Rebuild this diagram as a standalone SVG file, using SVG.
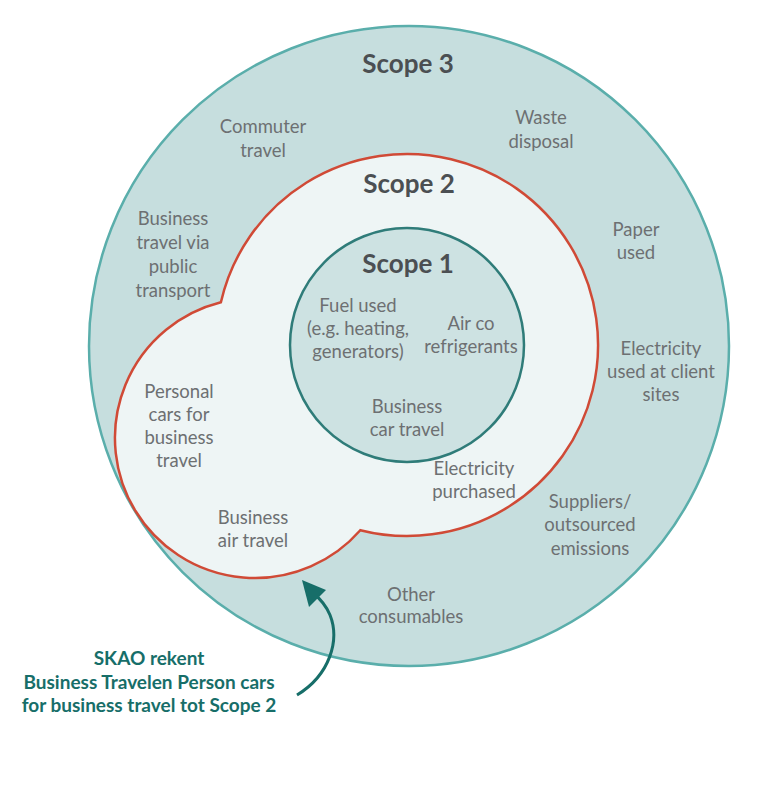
<svg xmlns="http://www.w3.org/2000/svg" width="758" height="786" viewBox="0 0 758 786">
<defs>
<style>
.lbl{font-family:Lato,"Open Sans","Liberation Sans",sans-serif;font-size:18.5px;fill:#6d7072;text-anchor:middle}
.hd{font-family:Lato,"Open Sans","Liberation Sans",sans-serif;font-size:26px;font-weight:bold;fill:#4b4f52;text-anchor:middle}
.ann{font-family:Lato,"Open Sans","Liberation Sans",sans-serif;font-size:19px;font-weight:bold;fill:#176e69;text-anchor:middle}
</style>
</defs>
<rect width="758" height="786" fill="#ffffff"/>
<g id="scope3">
<circle cx="409" cy="346" r="320" fill="#c6dede" stroke="#5aaeab" stroke-width="2.5"/>
<text class="hd" x="408" y="73">Scope 3</text>
<text class="lbl" x="263" y="133">Commuter</text>
<text class="lbl" x="263" y="157">travel</text>
<text class="lbl" x="541" y="124">Waste</text>
<text class="lbl" x="541" y="148">disposal</text>
<text class="lbl" x="173" y="225">Business</text>
<text class="lbl" x="173" y="249">travel via</text>
<text class="lbl" x="173" y="273">public</text>
<text class="lbl" x="173" y="297">transport</text>
<text class="lbl" x="636" y="236">Paper</text>
<text class="lbl" x="636" y="259">used</text>
<text class="lbl" x="661" y="355">Electricity</text>
<text class="lbl" x="661" y="378">used at client</text>
<text class="lbl" x="661" y="401">sites</text>
<text class="lbl" x="590" y="508">Suppliers/</text>
<text class="lbl" x="590" y="531">outsourced</text>
<text class="lbl" x="590" y="555">emissions</text>
<text class="lbl" x="411" y="601">Other</text>
<text class="lbl" x="411" y="623">consumables</text>
</g>
<g id="scope2">
<path d="M220.9,302.2 A191,191 0 1 1 360.3,530.2 A140,140 0 1 1 220.9,302.2 Z" fill="#eef5f5" stroke="#d04a36" stroke-width="2.5" stroke-linejoin="miter"/>
<text class="hd" x="409" y="193">Scope 2</text>
<text class="lbl" x="179" y="398">Personal</text>
<text class="lbl" x="179" y="421">cars for</text>
<text class="lbl" x="179" y="444">business</text>
<text class="lbl" x="179" y="467">travel</text>
<text class="lbl" x="474" y="475">Electricity</text>
<text class="lbl" x="474" y="498">purchased</text>
<text class="lbl" x="253" y="524">Business</text>
<text class="lbl" x="253" y="547">air travel</text>
</g>
<g id="scope1">
<circle cx="407" cy="345" r="117" fill="#cde2e2" stroke="#2f7c79" stroke-width="2.5"/>
<text class="hd" x="408" y="273">Scope 1</text>
<text class="lbl" x="358" y="312">Fuel used</text>
<text class="lbl" x="358" y="335">(e.g. heating,</text>
<text class="lbl" x="358" y="358">generators)</text>
<text class="lbl" x="471" y="330">Air co</text>
<text class="lbl" x="471" y="353">refrigerants</text>
<text class="lbl" x="407" y="413">Business</text>
<text class="lbl" x="407" y="436">car travel</text>
</g>
<g id="note">
<text class="ann" x="149" y="665">SKAO rekent</text>
<text class="ann" x="149" y="689">Business Travelen Person cars</text>
<text class="ann" x="149" y="712">for business travel tot Scope 2</text>
</g>
<g id="connectors">
<path d="M297,695 C330,675 340,640 330,615 C325,603 318,597 313,593" fill="none" stroke="#176e69" stroke-width="3"/>
<polygon points="302,580 326,590 309,607" fill="#176e69"/>
</g>
</svg>
